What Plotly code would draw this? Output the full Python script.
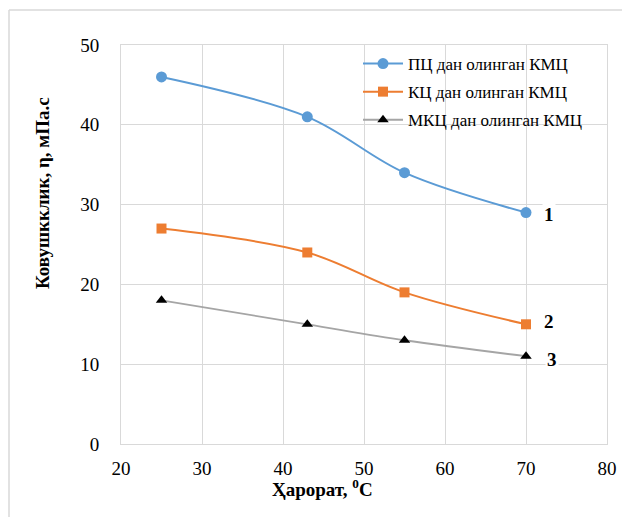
import plotly.graph_objects as go

temps = [25, 43, 55, 70]
series_names = ["ПЦ дан олинган КМЦ", "КЦ дан олинган КМЦ", "МКЦ дан олинган КМЦ"]
pc_vals = [46, 41, 34, 29]
kc_vals = [27, 24, 19, 15]
mkc_vals = [18, 15, 13, 11]
curve_labels = ["1", "2", "3"]
label_x = [72.8, 72.8, 73.2]
label_y = [28.8, 15.3, 10.6]
x_ticks = [20, 30, 40, 50, 60, 70, 80]
y_ticks = [0, 10, 20, 30, 40, 50]

SERIF = "Liberation Serif, Times New Roman, serif"

fig = go.Figure()
fig.add_trace(go.Scatter(x=temps, y=pc_vals, name=series_names[0], mode="lines+markers",
                         line=dict(color="#5B9BD5", width=2, shape="spline"),
                         marker=dict(symbol="circle", size=11, color="#5B9BD5"),
                         legendgroup="a"))
fig.add_trace(go.Scatter(x=temps, y=kc_vals, name=series_names[1], mode="lines+markers",
                         line=dict(color="#ED7D31", width=2, shape="spline"),
                         marker=dict(symbol="square", size=10, color="#ED7D31"),
                         legendgroup="b"))
fig.add_trace(go.Scatter(x=temps, y=mkc_vals, name=series_names[2], mode="lines+markers",
                         line=dict(color="#A5A5A5", width=1.8, shape="spline"),
                         marker=dict(symbol="triangle-up", size=10, color="#000000"),
                         legendgroup="c"))

for t, lx, ly in zip(curve_labels, label_x, label_y):
    fig.add_annotation(x=lx, y=ly, text="<b>" + t + "</b>", showarrow=False,
                       font=dict(family=SERIF, size=19, color="black"),
                       bgcolor="white", borderpad=1)

fig.add_annotation(xref="paper", yref="paper", x=(42 - 121) / 486, y=(444 - 193) / 399,
                   xanchor="center", yanchor="middle",
                   text="<b>Ковушкклик, η, мПа.с</b>", textangle=-90, showarrow=False,
                   font=dict(family=SERIF, size=19, color="black"))
fig.add_annotation(xref="paper", yref="paper", x=(322 - 121) / 486, y=(444 - 488) / 399,
                   xanchor="center", yanchor="middle",
                   text="<b>Ҳарорат, <sup>0</sup>C</b>", showarrow=False,
                   font=dict(family=SERIF, size=19, color="black"))

# outer light border (left and top edges visible)
fig.add_shape(type="line", xref="paper", yref="paper", x0=(9 - 121) / 486, x1=(9 - 121) / 486,
              y0=(444 - 520) / 399, y1=(444 - 10) / 399, line=dict(color="#D9D9D9", width=1.5))
fig.add_shape(type="line", xref="paper", yref="paper", x0=(9 - 121) / 486, x1=(625 - 121) / 486,
              y0=(444 - 10) / 399, y1=(444 - 10) / 399, line=dict(color="#D9D9D9", width=1.5))

fig.update_layout(
    width=622, height=517,
    margin=dict(l=121, r=15, t=45, b=73, autoexpand=False),
    paper_bgcolor="white", plot_bgcolor="white",
    showlegend=True,
    legend=dict(x=(358 - 121) / 486, y=(444 - 46) / 399, xanchor="left", yanchor="top",
                bgcolor="rgba(0,0,0,0)", font=dict(family=SERIF, size=17, color="black"),
                tracegroupgap=3, itemwidth=40),
    font=dict(family=SERIF, color="black"),
)
fig.update_xaxes(range=[20, 80], tickvals=x_ticks, showgrid=True, gridcolor="#D9D9D9", gridwidth=1,
                 showline=True, linecolor="#D9D9D9", mirror=True, zeroline=False, automargin=False,
                 tickfont=dict(family=SERIF, size=19, color="black"),
                 ticks="outside", ticklen=7, tickcolor="rgba(0,0,0,0)")
fig.update_yaxes(range=[0, 50], tickvals=y_ticks, showgrid=True, gridcolor="#D9D9D9", gridwidth=1,
                 showline=True, linecolor="#D9D9D9", mirror=True, zeroline=False, automargin=False,
                 tickfont=dict(family=SERIF, size=19, color="black"),
                 ticks="outside", ticklen=17, tickcolor="rgba(0,0,0,0)")

fig.write_html("out.html", config={"displayModeBar": False},
               post_script="document.body.style.margin='0px';")
